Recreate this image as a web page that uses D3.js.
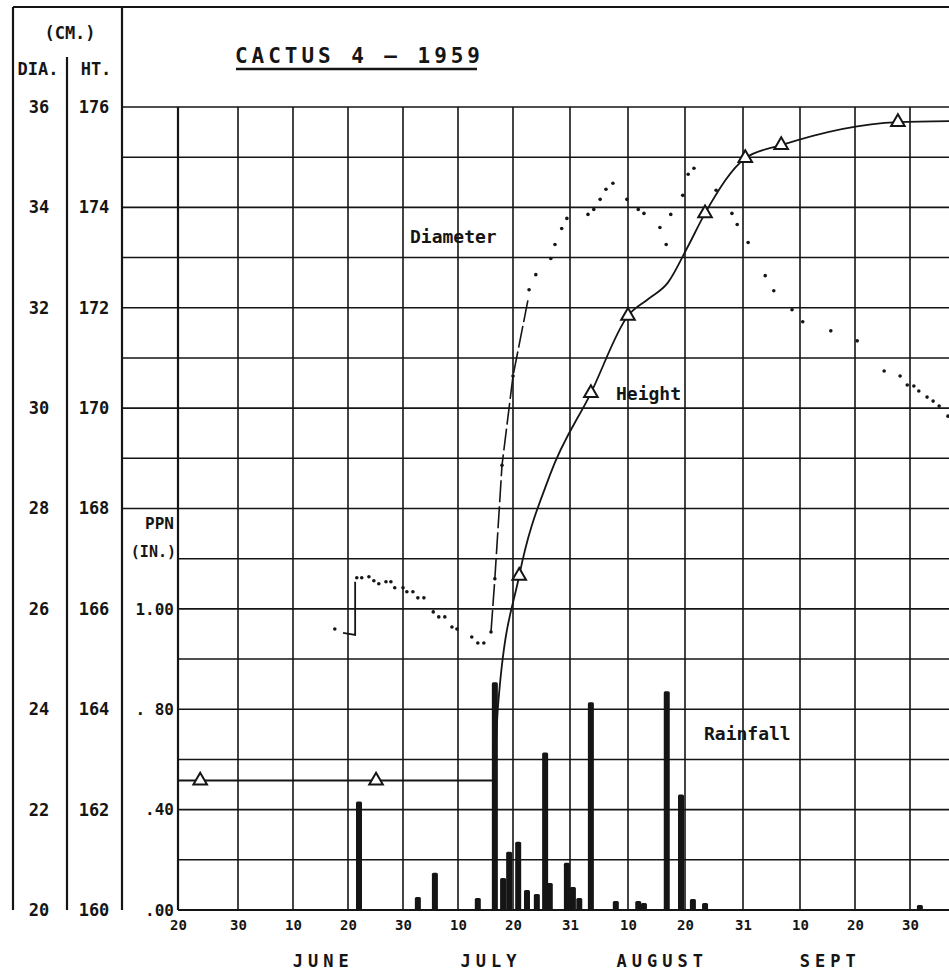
<!DOCTYPE html>
<html>
<head>
<meta charset="utf-8">
<script src="https://cdnjs.cloudflare.com/ajax/libs/d3/7.8.5/d3.min.js"></script>
<style>
  body { margin: 0; background: #fff; }
</style>
</head>
<body>
<div id="chart"></div>
<script>
"use strict";

// x values are day of year 1959 (May 20 = 140, Sept 30 = 273)
var tickDays = [140, 150, 161, 171, 181, 191, 201, 212, 222, 232, 243, 253, 263, 273];
var tickLabels = ["20", "30", "10", "20", "30", "10", "20", "31", "10", "20", "31", "10", "20", "30"];
var months = ["JUNE", "JULY", "AUGUST", "SEPT"];
var monthFirst = [152, 182, 213, 244];
var monthLast = [181, 212, 243, 273];

var diaTicks = [20, 22, 24, 26, 28, 30, 32, 34, 36];
var htTicks = [160, 162, 164, 166, 168, 170, 172, 174, 176];
var rainTicks = [0, 0.4, 0.8, 1.2];
var rainLabels = [".00", ".40", ". 80", "1.00"];   // top label reads 1.00 on the original

// height (cm), obs = measured point drawn with a triangle
var heightDay = [140, 143.7, 176.1, 197.4, 198.3, 202.2, 208.1, 215.6, 222.0, 225.5, 229.0, 232.4, 235.8, 243.4, 249.7, 270.8, 280.1];
var heightCm = [162.58, 162.58, 162.58, 162.58, 164.1, 166.66, 168.66, 170.3, 171.84, 172.17, 172.5, 173.19, 173.88, 174.98, 175.24, 175.7, 175.72];
var heightObs = [0, 1, 1, 0, 0, 1, 0, 1, 1, 0, 0, 0, 1, 1, 1, 1, 0];

// diameter (cm), daily dots
var diaDay = [168.6, 172.6, 173.5, 174.8, 175.7, 176.6, 177.9, 178.8, 179.5, 181.0, 181.7, 182.8, 183.7, 184.8,
  186.5, 187.5, 188.6, 189.9, 190.8, 193.5, 194.6, 195.7, 197.0, 197.7, 199.0, 201.0, 204.1, 205.4, 208.3, 209.1,
  210.4, 211.4, 215.1, 216.1, 217.2, 218.2, 219.4, 221.8, 223.8, 224.8, 227.6, 228.7, 229.5, 231.6, 232.6, 233.7,
  237.9, 240.9, 241.9, 243.9, 246.9, 248.4, 251.6, 253.5, 258.6, 263.4, 268.3, 271.2, 272.5, 273.7, 274.6, 276.1,
  277.2, 278.3, 279.9];
var diaCm = [25.6, 26.62, 26.62, 26.64, 26.56, 26.5, 26.54, 26.54, 26.42, 26.42, 26.34, 26.34, 26.22, 26.22,
  25.94, 25.84, 25.84, 25.64, 25.6, 25.44, 25.32, 25.32, 25.54, 26.6, 28.86, 30.64, 32.36, 32.66, 32.98, 33.26,
  33.58, 33.78, 33.86, 33.96, 34.16, 34.36, 34.48, 34.16, 33.96, 33.88, 33.6, 33.26, 33.86, 34.24, 34.66, 34.78,
  34.34, 33.88, 33.66, 33.3, 32.64, 32.34, 31.96, 31.72, 31.54, 31.34, 30.74, 30.64, 30.46, 30.44, 30.34, 30.22,
  30.14, 30.04, 29.84];

// diameter pieces drawn as lines
var diaStepDay = [170.1, 172.3, 172.3];
var diaStepCm = [25.52, 25.48, 26.54];
var diaRiseDay = [197.0, 197.7, 199.0, 201.0, 203.9];
var diaRiseCm = [25.54, 26.6, 28.86, 30.64, 32.16];

// rainfall (in.)
var rainDay = [173.0, 183.7, 186.8, 194.6, 197.7, 199.2, 200.3, 202.0, 203.7, 205.6, 207.2, 208.1, 211.4, 212.5,
  213.6, 215.6, 219.9, 223.8, 224.8, 228.8, 231.3, 233.5, 235.8, 274.8];
var rainIn = [0.432, 0.052, 0.148, 0.048, 0.908, 0.128, 0.232, 0.272, 0.08, 0.064, 0.628, 0.108, 0.188, 0.092,
  0.048, 0.828, 0.036, 0.036, 0.028, 0.872, 0.46, 0.044, 0.028, 0.02];

var width = 949, height = 970;
var gridX = [178, 238, 293, 348, 403, 458, 513, 570, 628, 685, 743, 800, 855, 910];
var plotLeft = 178, plotTop = 107, plotBottom = 910;
var ink = "#151515";
var font = "'DejaVu Sans Mono', monospace";

var svg = d3.select("#chart").append("svg")
  .attr("width", width)
  .attr("height", height)
  .style("background", "#fff");

var x = d3.scaleLinear().domain(tickDays).range(gridX);
var yHt = d3.scaleLinear().domain([160, 176]).range([plotBottom, plotTop]);
var yDia = d3.scaleLinear().domain([20, 36]).range([plotBottom, plotTop]);
var yRain = d3.scaleLinear().domain([0, 1.2]).range([plotBottom, yHt(166)]);

// graph paper
svg.append("g").selectAll("line")
  .data(d3.range(160, 177))
  .enter().append("line")
    .attr("x1", function(d) { return d >= 168 ? 122 : plotLeft; })
    .attr("x2", width)
    .attr("y1", function(d) { return yHt(d); })
    .attr("y2", function(d) { return yHt(d); })
    .attr("stroke", ink)
    .attr("stroke-width", 1.6);

svg.append("g").selectAll("line")
  .data(tickDays)
  .enter().append("line")
    .attr("x1", function(d) { return x(d); })
    .attr("x2", function(d) { return x(d); })
    .attr("y1", plotTop)
    .attr("y2", plotBottom)
    .attr("stroke", ink)
    .attr("stroke-width", 1.6);

// frame and column rules
var rules = [
  [13, 7, width, 7], [13, 7, 13, 910], [67, 57, 67, 910], [122, 7, 122, 910],
  [plotLeft, plotTop, plotLeft, plotBottom], [plotLeft, plotBottom, width, plotBottom]
];
svg.append("g").selectAll("line")
  .data(rules)
  .enter().append("line")
    .attr("x1", function(d) { return d[0]; })
    .attr("y1", function(d) { return d[1]; })
    .attr("x2", function(d) { return d[2]; })
    .attr("y2", function(d) { return d[3]; })
    .attr("stroke", ink)
    .attr("stroke-width", 2.2);

// axes
function styleAxis(g, size, anchor) {
  g.attr("font-family", font).attr("font-size", size).attr("font-weight", "bold").attr("text-anchor", anchor);
  g.select(".domain").remove();
  g.selectAll("text").attr("fill", ink);
}

svg.append("g")
  .attr("transform", "translate(39,0)")
  .call(d3.axisLeft(yDia).tickValues(diaTicks).tickSize(0).tickPadding(0))
  .call(styleAxis, 17, "middle");

svg.append("g")
  .attr("transform", "translate(94,0)")
  .call(d3.axisLeft(yHt).tickValues(htTicks).tickSize(0).tickPadding(0))
  .call(styleAxis, 17, "middle");

svg.append("g")
  .attr("transform", "translate(174,0)")
  .call(d3.axisLeft(yRain).tickValues(rainTicks)
    .tickFormat(function(d, i) { return rainLabels[i]; })
    .tickSize(0).tickPadding(0))
  .call(styleAxis, 16, "end");

svg.append("g")
  .attr("transform", "translate(0," + plotBottom + ")")
  .call(d3.axisBottom(x).tickValues(tickDays)
    .tickFormat(function(d, i) { return tickLabels[i]; })
    .tickSize(0).tickPadding(10))
  .call(styleAxis, 14, "middle");

svg.append("g").selectAll("text")
  .data(months)
  .enter().append("text")
    .attr("x", function(d, i) { return x((monthFirst[i] + monthLast[i]) / 2); })
    .attr("y", 967)
    .attr("text-anchor", "middle")
    .attr("font-family", font)
    .attr("font-weight", "bold")
    .attr("font-size", 17)
    .attr("letter-spacing", 5)
    .attr("fill", ink)
    .text(function(d) { return d; });

// labels
var labels = [
  { t: "(CM.)", x: 70, y: 39, a: "middle", s: 17 },
  { t: "DIA.", x: 38, y: 75, a: "middle", s: 17 },
  { t: "HT.", x: 96, y: 75, a: "middle", s: 17 },
  { t: "PPN", x: 174, y: 529, a: "end", s: 16 },
  { t: "(IN.)", x: 176, y: 557, a: "end", s: 15 },
  { t: "Diameter", x: 410, y: 243, a: "start", s: 18 },
  { t: "Height", x: 616, y: 400, a: "start", s: 18 },
  { t: "Rainfall", x: 704, y: 740, a: "start", s: 18 }
];
svg.append("g").selectAll("text")
  .data(labels)
  .enter().append("text")
    .attr("x", function(d) { return d.x; })
    .attr("y", function(d) { return d.y; })
    .attr("text-anchor", function(d) { return d.a; })
    .attr("font-family", font)
    .attr("font-weight", "bold")
    .attr("font-size", function(d) { return d.s; })
    .attr("fill", ink)
    .text(function(d) { return d.t; });

svg.append("text")
  .attr("x", 235)
  .attr("y", 63)
  .attr("font-family", font)
  .attr("font-weight", "bold")
  .attr("font-size", 21)
  .attr("textLength", 245)
  .attr("lengthAdjust", "spacing")
  .attr("fill", ink)
  .text("CACTUS 4 \u2013 1959");

svg.append("line")
  .attr("x1", 236).attr("x2", 477)
  .attr("y1", 69).attr("y2", 69)
  .attr("stroke", ink)
  .attr("stroke-width", 2.5);

// rainfall bars
svg.append("g").selectAll("rect")
  .data(rainIn)
  .enter().append("rect")
    .attr("x", function(d, i) { return x(rainDay[i]) - 3; })
    .attr("y", function(d) { return yRain(d); })
    .attr("width", 6)
    .attr("height", function(d) { return plotBottom - yRain(d); })
    .attr("rx", 1.5)
    .attr("fill", ink);

// diameter
function pts(days, vals, y) {
  return days.map(function(d, i) { return [x(d), y(vals[i])]; });
}
var straight = d3.line();

svg.append("path")
  .attr("d", straight(pts(diaStepDay, diaStepCm, yDia)))
  .attr("fill", "none")
  .attr("stroke", ink)
  .attr("stroke-width", 1.8);

svg.append("path")
  .attr("d", straight(pts(diaRiseDay, diaRiseCm, yDia)))
  .attr("fill", "none")
  .attr("stroke", ink)
  .attr("stroke-width", 1.6)
  .attr("stroke-dasharray", "22,4");

svg.append("g").selectAll("circle")
  .data(diaCm)
  .enter().append("circle")
    .attr("cx", function(d, i) { return x(diaDay[i]); })
    .attr("cy", function(d) { return yDia(d); })
    .attr("r", 1.8)
    .attr("fill", ink);

// height
var heightLine = d3.line().curve(d3.curveMonotoneX);
svg.append("path")
  .attr("d", heightLine(pts(heightDay, heightCm, yHt)))
  .attr("fill", "none")
  .attr("stroke", ink)
  .attr("stroke-width", 1.8);

var heightMarks = heightDay
  .map(function(d, i) { return { day: d, cm: heightCm[i], obs: heightObs[i] }; })
  .filter(function(d) { return d.obs; });

svg.append("g").selectAll("path")
  .data(heightMarks)
  .enter().append("path")
    .attr("transform", function(d) { return "translate(" + x(d.day) + "," + yHt(d.cm) + ")"; })
    .attr("d", d3.symbol(d3.symbolTriangle, 80))
    .attr("fill", "#fff")
    .attr("stroke", ink)
    .attr("stroke-width", 2);
</script>
</body>
</html>
